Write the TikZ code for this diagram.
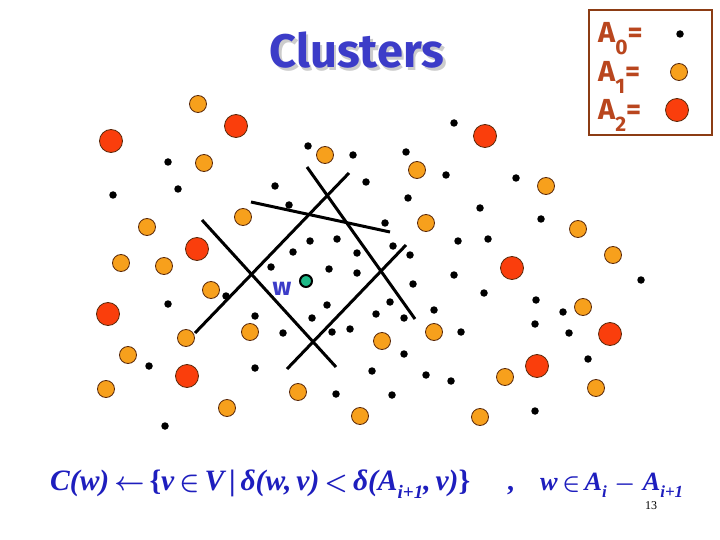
\documentclass[tikz,border=0pt]{standalone}
\usepackage{fontspec}
\usepackage{amsmath}
\newfontfamily\comic{Fira Sans}
\newfontfamily\tnr{Liberation Serif}
\definecolor{titleblue}{RGB}{60,60,200}
\definecolor{fblue}{RGB}{30,30,190}
\definecolor{legbrown}{RGB}{140,60,20}
\definecolor{legtext}{RGB}{185,70,30}
\definecolor{orangeA}{RGB}{247,160,28}
\definecolor{redA}{RGB}{250,62,12}
\definecolor{greenw}{RGB}{30,185,135}
\definecolor{rimA}{RGB}{90,40,10}
\newcommand{\fbi}{\tnr\bfseries\itshape}
\newcommand{\fbu}{\tnr\bfseries\upshape}
\newcommand{\lowsub}[1]{\raisebox{-0.3em}{\fontsize{18}{18}\selectfont\tnr\bfseries\itshape #1}}
\newcommand{\legsub}[1]{\raisebox{-0.38em}{\fontsize{21}{21}\selectfont #1}}
\tikzset{
  dotzero/.style={circle,fill=black,inner sep=0pt,minimum size=7.5pt},
  dotone/.style={circle,draw=rimA,line width=0.8pt,fill=orangeA,inner sep=0pt,minimum size=17pt},
  dottwo/.style={circle,draw=rimA,line width=0.8pt,fill=redA,inner sep=0pt,minimum size=23pt},
  cut/.style={line width=3pt,black},
  legrow/.style={anchor=base west,inner sep=0pt,text=legtext,font=\comic\bfseries\fontsize{29}{30}\selectfont},
  formula/.style={anchor=base west,inner sep=0pt,text=fblue,font=\fontsize{28}{30}\selectfont\boldmath}
}
\begin{document}
\begin{tikzpicture}[x=1pt,y=-1pt]
\useasboundingbox (0,0) rectangle (720,540);
\fill[white] (0,0) rectangle (720,540);

% title with shadow
\node[anchor=base,inner sep=0pt,text=black!20,font=\comic\bfseries\fontsize{47}{50}\selectfont] (titleshadow) at (359.5,70.5) {Clusters};
\node[anchor=base,inner sep=0pt,text=titleblue,font=\comic\bfseries\fontsize{47}{50}\selectfont] (title) at (357,68) {Clusters};

% legend
\draw[legbrown,line width=2.5pt] (589,10) rectangle (712,135);
\node[legrow] (lega) at (598,43) {A\legsub{0}=};
\node[legrow] (legb) at (598,82) {A\legsub{1}=};
\node[legrow] (legc) at (598,120) {A\legsub{2}=};
\node[dotzero] (legd0) at (680,34) {};
\node[dotone] (legd1) at (679,72) {};
\node[dottwo] (legd2) at (677,110) {};

% cutting lines
\coordinate (la1) at (307,167); \coordinate (la2) at (415,319);
\coordinate (lb1) at (349,173); \coordinate (lb2) at (195,333);
\coordinate (lc1) at (251,202); \coordinate (lc2) at (390,232);
\coordinate (ld1) at (202,220); \coordinate (ld2) at (336,367);
\coordinate (le1) at (406,245); \coordinate (le2) at (287,369);
\draw[cut] (la1) -- (la2);
\draw[cut] (lb1) -- (lb2);
\draw[cut] (lc1) -- (lc2);
\draw[cut] (ld1) -- (ld2);
\draw[cut] (le1) -- (le2);

% A0 points
\foreach [count=\i] \p in {(308,146),(353,155),(454,123),(406,152),(446,175),(366,182),(516,178),(168,162),(178,189),(113,195),(275,186),(289,205),(408,198),(480,208),(541,219),(385,223),(310,241),(337,239),(293,252),(357,253),(393,246),(410,255),(458,241),(488,239),(271,267),(329,269),(357,273),(454,275),(641,280),(413,284),(484,293),(536,300),(226,296),(168,304),(327,305),(390,302),(255,316),(312,318),(376,314),(404,318),(434,310),(283,333),(350,329),(332,332),(461,332),(535,324),(563,312),(569,333),(149,366),(255,368),(404,354),(372,371),(426,375),(451,381),(588,359),(336,394),(392,395),(165,426),(535,411)}
  \node[dotzero] (z\i) at \p {};

% A1 points
\foreach [count=\i] \p in {(198,104),(204,163),(325,155),(417,170),(546,186),(243,217),(426,223),(578,229),(147,227),(121,263),(164,266),(613,255),(211,290),(250,332),(186,338),(382,341),(434,332),(128,355),(583,307),(106,389),(298,392),(227,408),(360,416),(480,417),(505,377),(596,388)}
  \node[dotone] (o\i) at \p {};

% A2 points
\foreach [count=\i] \p in {(236,126),(111,141),(485,136),(197,249),(512,268),(108,314),(187,376),(537,366),(610,334)}
  \node[dottwo] (r\i) at \p {};

% w
\node[circle,draw=black,line width=2pt,fill=greenw,inner sep=0pt,minimum size=12pt] (w) at (306,281) {};
\node[anchor=base,inner sep=0pt,text=titleblue,font=\comic\bfseries\fontsize{25}{25}\selectfont] (wlabel) at (282,295) {w};

% formula
\node[formula] (f1) at (50,490) {\resizebox{420pt}{!}{{\fbi C(w)}$\,\leftarrow\,${\fbu\{}{\fbi v}$\,\in\,${\fbi V}{\fbu\,|\,}{\fbi δ(w,\,v)}$\,<\,${\fbi δ(A}\lowsub{i+1}{\fbi ,\,v)}{\fbu\}}}};
\node[formula] (f2) at (507,490) {{\fbu ,}};
\node[formula] (f3) at (540,490) {\resizebox{143pt}{!}{{\fbi w}$\,\in\,${\fbi A}\lowsub{i}$\;-\;${\fbi A}\lowsub{i+1}}};
\node[anchor=base,inner sep=0pt,font=\tnr\fontsize{12}{12}\selectfont] (pagenum) at (651,509) {13};
\end{tikzpicture}
\end{document}
